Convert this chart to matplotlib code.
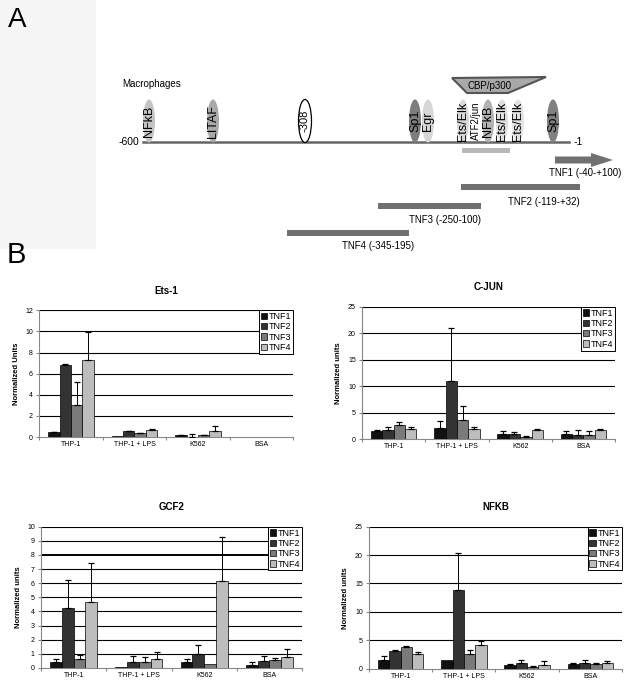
import numpy as np
import matplotlib
matplotlib.use("Agg")
import matplotlib.pyplot as plt
from matplotlib.patches import Ellipse, Polygon, Rectangle, FancyArrow

plt.rcParams['font.family'] = ['Liberation Sans', 'DejaVu Sans']

# ---------------- data ----------------

categories = ["THP-1", "THP-1 + LPS", "K562", "BSA"]
series = ["TNF1", "TNF2", "TNF3", "TNF4"]
series_colors = ["#111111", "#333333", "#7a7a7a", "#bdbdbd"]

# values per series (rows) x category (cols), upper error amounts
ets1_vals = [[0.47, 0.10, 0.15, 0.02],
             [6.85, 0.57, 0.02, 0.02],
             [3.00, 0.35, 0.18, 0.02],
             [7.26, 0.65, 0.55, 0.02]]
ets1_err = [[0.05, 0.00, 0.05, 0.0],
            [0.05, 0.03, 0.25, 0.0],
            [2.20, 0.03, 0.03, 0.0],
            [2.70, 0.15, 0.45, 0.0]]

cjun_vals = [[1.5, 2.1, 1.0, 1.0],
             [1.8, 10.9, 0.9, 0.8],
             [2.6, 3.6, 0.35, 0.8],
             [1.9, 1.9, 1.8, 1.8]]
cjun_err = [[0.3, 1.3, 0.5, 0.5],
            [0.4, 10.2, 0.4, 1.0],
            [0.6, 2.7, 0.25, 0.8],
            [0.3, 0.3, 0.1, 0.1]]

gcf2_vals = [[0.40, 0.05, 0.45, 0.20],
             [4.24, 0.45, 1.00, 0.50],
             [0.66, 0.40, 0.24, 0.55],
             [4.64, 0.65, 6.19, 0.80]]
gcf2_err = [[0.24, 0.00, 0.15, 0.20],
            [2.00, 0.40, 0.60, 0.35],
            [0.28, 0.35, 0.00, 0.15],
            [2.82, 0.50, 3.06, 0.55]]

nfkb_vals = [[1.5, 1.45, 0.7, 0.75],
             [3.1, 13.8, 0.9, 0.9],
             [3.8, 2.6, 0.3, 0.8],
             [2.6, 4.2, 0.65, 1.0]]
nfkb_err = [[0.7, 0.0, 0.15, 0.15],
            [0.1, 6.5, 0.6, 0.6],
            [0.2, 0.6, 0.1, 0.15],
            [0.3, 0.7, 0.65, 0.4]]

# promoter schematic
site_names = ["NFkB", "LITAF", "-308", "Sp1", "Egr", "Ets/Elk", "ATF2/jun",
              "NFkB", "Ets/Elk", "Ets/Elk", "Sp1"]
site_x = [149, 213, 305, 415, 428, 463, 476, 488, 502, 518, 553]
site_fill = ["#c4c4c4", "#a9a9a9", "white", "#7d7d7d", "#d6d6d6", "#d9d9d9",
             None, "#b2b2b2", "#dedede", "#e2e2e2", "#808080"]
frag_labels = ["TNF1 (-40-+100)", "TNF2 (-119-+32)", "TNF3 (-250-100)",
               "TNF4 (-345-195)"]

# ---------------- figure ----------------

fig = plt.figure(figsize=(6.32, 6.85), dpi=100)

# panel A, drawn in pixel-like coordinates
dg = fig.add_axes([0, 0, 1, 1])
dg.set_xlim(0, 632)
dg.set_ylim(685, 0)
dg.axis("off")

dg.add_patch(Rectangle((0, 0), 96, 249, color="#f5f5f5", lw=0))
dg.text(8, 27, "A", fontsize=20, va="baseline")
dg.text(7, 263, "B", fontsize=21, va="baseline")
dg.text(122, 84, "Macrophages", fontsize=7, va="center")

dg.plot([143, 569], [142, 142], color="#666666", lw=1.8, zorder=1)
dg.text(139, 142, "-600", fontsize=7.5, ha="right", va="center")
dg.text(574, 142, "-1", fontsize=7.5, ha="left", va="center")

for name, x, fc in zip(site_names, site_x, site_fill):
    fs = 9
    if fc == "white":
        dg.add_patch(Ellipse((x, 121), 13, 43, facecolor="white",
                             edgecolor="black", lw=0.9, zorder=2))
        fs = 8
    elif fc is not None:
        dg.add_patch(Ellipse((x, 121), 12, 43, facecolor=fc, lw=0, zorder=2))
    else:
        fs = 7
    dg.text(x, 121, name, rotation=90, fontsize=fs, ha="center",
            va="center", zorder=3)

dg.add_patch(Polygon([(452, 78), (546, 77), (508, 93), (467, 93)],
                     closed=True, facecolor="#a9a9a9", edgecolor="#555555",
                     lw=1.5, zorder=4))
dg.text(489, 86, "CBP/p300", fontsize=7, ha="center", va="center", zorder=5)

dg.add_patch(Rectangle((462, 148), 48, 5, color="#b8b8b8", lw=0))
dg.add_patch(FancyArrow(555, 160, 36, 0, width=7, head_width=14,
                        head_length=22, length_includes_head=False,
                        color="#707070", lw=0))
frag_spans = [(461, 580, 187), (378, 481, 206), (287, 409, 233)]
for x0, x1, y in frag_spans:
    dg.add_patch(Rectangle((x0, y - 3), x1 - x0, 6, color="#707070", lw=0))
label_pos = [(585, 173), (544, 202), (445, 220), (378, 246)]
for lab, (lx, ly) in zip(frag_labels, label_pos):
    dg.text(lx, ly, lab, fontsize=7, ha="center", va="center")


# panel B bar charts
def bar_panel(rect, title, vals, errs, ymax, ystep, ylabel, thick=None):
    ax = fig.add_axes(rect)
    x = np.arange(len(categories))
    w = 0.18
    for i, (v, e) in enumerate(zip(vals, errs)):
        pos = x + (i - 1.5) * w
        ax.bar(pos, v, width=w, color=series_colors[i], edgecolor="black",
               linewidth=0.5, zorder=3, label=series[i])
        e = np.array(e)
        m = e > 0
        ax.errorbar(pos[m], np.array(v)[m], yerr=[np.zeros(m.sum()), e[m]],
                    fmt="none", ecolor="black", elinewidth=0.7, capsize=2.4,
                    capthick=0.9, zorder=4)
    ax.set_xlim(-0.5, 3.5)
    ax.set_ylim(0, ymax)
    ticks = np.arange(0, ymax + 0.01, ystep)
    ax.set_yticks(ticks)
    ax.set_yticklabels([f"{t:g}" for t in ticks], fontsize=5)
    for t in ticks[1:]:
        lw = 1.4 if thick is not None and t == thick else 0.8
        ax.axhline(t, color="black", lw=lw, zorder=1)
    ax.set_xticks(np.arange(-0.5, 4, 1))
    ax.set_xticklabels([])
    ax.set_xticks(x, minor=True)
    ax.set_xticklabels(categories, minor=True, fontsize=5)
    ax.tick_params(axis="x", which="minor", length=0, pad=3)
    ax.tick_params(axis="x", which="major", length=2.5, color="#888888")
    ax.tick_params(axis="y", length=2.5, color="#888888", pad=2)
    for s in ["top", "right"]:
        ax.spines[s].set_visible(False)
    ax.spines["left"].set_color("#888888")
    ax.spines["bottom"].set_color("#888888")
    ax.set_ylabel(ylabel, fontsize=5.5, fontweight="bold", labelpad=4)
    ax.set_title(title, fontsize=7, fontweight="bold", pad=12)
    leg = ax.legend(loc="upper right", bbox_to_anchor=(1.0, 1.0),
                    borderaxespad=0, fontsize=6.5, handlelength=0.7,
                    handleheight=0.7, handletextpad=0.2, borderpad=0.2,
                    labelspacing=0.15, fancybox=False, framealpha=1)
    leg.get_frame().set_edgecolor("black")
    leg.get_frame().set_linewidth(0.7)
    return ax


bar_panel([0.062, 0.362, 0.402, 0.185], "Ets-1", ets1_vals, ets1_err,
          12, 2, "Normalized Units")
bar_panel([0.573, 0.359, 0.400, 0.193], "C-JUN", cjun_vals, cjun_err,
          25, 5, "Normalized units")
bar_panel([0.065, 0.025, 0.413, 0.206], "GCF2", gcf2_vals, gcf2_err,
          10, 1, "Normalized units", thick=8)
bar_panel([0.584, 0.024, 0.400, 0.207], "NFKB", nfkb_vals, nfkb_err,
          25, 5, "Normalized units")

fig.savefig("out.png", dpi=100)
